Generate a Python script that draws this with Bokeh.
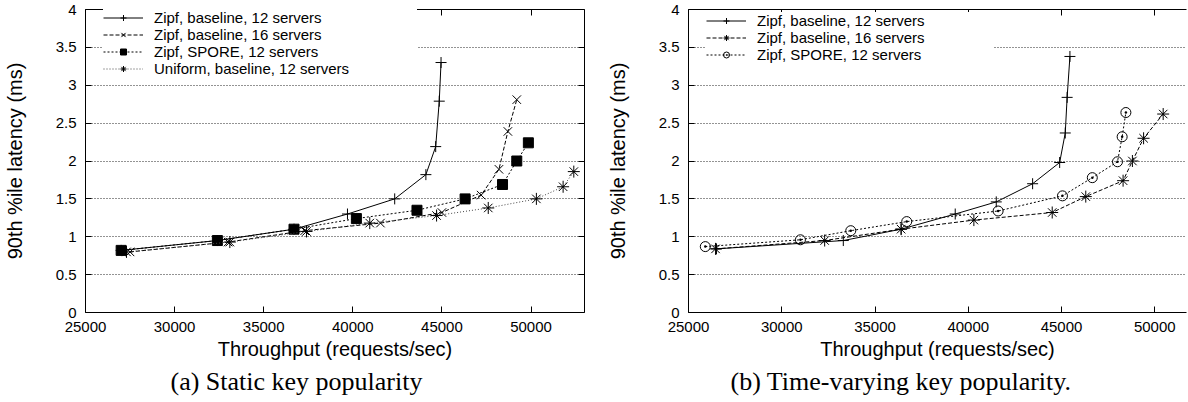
from bokeh.plotting import figure
from bokeh.layouts import row
from bokeh.models import (Range1d, FixedTicker, NumeralTickFormatter, LinearAxis,
                          Legend, LegendItem, Title, CustomJSTickFormatter)
from bokeh.embed import file_html
from bokeh.resources import INLINE

# ---------------- data ----------------
X_TICKS = [25000, 30000, 35000, 40000, 45000, 50000]
Y_TICKS = [0, 0.5, 1, 1.5, 2, 2.5, 3, 3.5, 4]
GRID_Y = [0.5, 1, 1.5, 2, 2.5, 3, 3.5]
X_TITLE = "Throughput (requests/sec)"
Y_TITLE = "90th %ile latency (ms)"

# Panel (a): static key popularity
a_caption = "(a) Static key popularity"
a_labels = ["Zipf, baseline, 12 servers", "Zipf, baseline, 16 servers",
            "Zipf, SPORE, 12 servers", "Uniform, baseline, 12 servers"]
a_zipf12_x = [27000, 32400, 36700, 39700, 42350, 44100, 44650, 44850, 44950]
a_zipf12_y = [0.82, 0.95, 1.10, 1.30, 1.50, 1.82, 2.19, 2.79, 3.30]
a_zipf16_x = [27500, 33000, 37300, 41550, 45000, 47200, 48200, 48700, 49200]
a_zipf16_y = [0.80, 0.93, 1.08, 1.18, 1.32, 1.55, 1.89, 2.39, 2.81]
a_spore_x = [27000, 32400, 36700, 40200, 43600, 46300, 48400, 49200, 49850]
a_spore_y = [0.82, 0.95, 1.10, 1.24, 1.35, 1.50, 1.69, 2.00, 2.24]
a_unif_x = [27300, 33100, 37400, 40950, 44700, 47600, 50300, 51800, 52400]
a_unif_y = [0.80, 0.93, 1.07, 1.18, 1.28, 1.38, 1.50, 1.66, 1.86]

# Panel (b): time-varying key popularity
b_caption = "(b) Time-varying key popularity."
b_labels = ["Zipf, baseline, 12 servers", "Zipf, baseline, 16 servers",
            "Zipf, SPORE, 12 servers"]
b_zipf12_x = [26500, 33300, 36400, 39300, 41500, 43450, 44900, 45200, 45300, 45450]
b_zipf12_y = [0.84, 0.95, 1.10, 1.30, 1.46, 1.70, 1.98, 2.37, 2.84, 3.38]
b_zipf16_x = [26450, 32300, 36400, 40300, 44500, 46300, 48300, 48800, 49400, 50450]
b_zipf16_y = [0.84, 0.95, 1.10, 1.22, 1.32, 1.53, 1.74, 2.00, 2.30, 2.62]
b_spore_x = [25900, 31000, 33700, 36700, 41600, 45050, 46650, 48000, 48250, 48450]
b_spore_y = [0.87, 0.96, 1.08, 1.20, 1.34, 1.54, 1.78, 1.99, 2.32, 2.64]

# ---------------- styles ----------------
FONT = "Liberation Sans"
S_SOLID = dict(line_dash="solid", line_color="black", line_width=1,
               marker="cross", size=11, fill_color="black")
S_DASH = dict(line_dash="4 2", line_color="black", line_width=1,
              marker="x", size=12, fill_color="black")
S_DOT = dict(line_dash="2 2", line_color="black", line_width=1,
             marker="square", size=10, fill_color="black")
S_FINE = dict(line_dash="1 2", line_color="#444444", line_width=1,
              marker="asterisk", size=12, fill_color="black")
S_STAR_DASH = dict(line_dash="4 2", line_color="black", line_width=1,
                   marker="asterisk", size=12, fill_color="black")
S_CIRC_DOT = dict(line_dash="2 2", line_color="black", line_width=1,
                  marker="circle_dot", size=10, fill_color=None)

FIG_H = 400
FRAME_TOP = 9
FRAME_H = 303


def style_axis(ax, show_labels=True):
    ax.axis_line_color = "black"
    ax.axis_line_width = 1
    ax.major_tick_in = 6
    ax.major_tick_out = 0
    ax.minor_tick_in = 0
    ax.minor_tick_out = 0
    ax.major_tick_line_color = "black"
    if show_labels:
        ax.major_label_text_font = FONT
        ax.major_label_text_font_size = "15px"
        ax.major_label_text_color = "black"
        ax.major_label_standoff = 9
    else:
        ax.formatter = CustomJSTickFormatter(code="return ''")
        ax.major_label_text_font_size = "0px"
        ax.major_label_standoff = 0


def make_panel(series, labels, caption, x_end, width, mb_left, mb_right,
               right_axis, legend_lw, legend_vy, caption_offset):
    p = figure(width=width, height=FIG_H, output_backend="svg",
               toolbar_location=None, x_range=Range1d(25000, x_end),
               y_range=Range1d(0, 4), min_border_left=mb_left,
               min_border_right=mb_right, min_border_top=FRAME_TOP,
               min_border_bottom=FIG_H - FRAME_TOP - FRAME_H)
    p.outline_line_color = None
    p.background_fill_color = "white"
    p.border_fill_color = "white"

    p.xaxis.ticker = FixedTicker(ticks=X_TICKS)
    p.xaxis.formatter = NumeralTickFormatter(format="0")
    p.yaxis.ticker = FixedTicker(ticks=Y_TICKS)
    p.yaxis.formatter = NumeralTickFormatter(format="0.[0]")
    for ax in p.xaxis + p.yaxis:
        style_axis(ax)
        ax.axis_label_text_font = FONT
        ax.axis_label_text_font_size = "20px"
        ax.axis_label_text_font_style = "normal"
        ax.axis_label_text_color = "black"
    p.xaxis.axis_label = X_TITLE
    p.xaxis.axis_label_standoff = 3
    p.yaxis.axis_label = Y_TITLE
    p.yaxis.axis_label_standoff = 27

    top = LinearAxis(ticker=FixedTicker(ticks=X_TICKS), level="overlay")
    style_axis(top, show_labels=False)
    p.add_layout(top, "above")
    if right_axis:
        rgt = LinearAxis(ticker=FixedTicker(ticks=Y_TICKS))
        style_axis(rgt, show_labels=False)
        p.add_layout(rgt, "right")

    p.xgrid.visible = False
    p.ygrid.ticker = FixedTicker(ticks=GRID_Y)
    p.ygrid.grid_line_color = "black"
    p.ygrid.grid_line_alpha = 0.85
    p.ygrid.grid_line_dash = "1 2"
    p.ygrid.grid_line_width = 1

    items = []
    for (xs, ys, st), lab in zip(series, labels):
        lr = p.line(xs, ys, line_color=st["line_color"], line_dash=st["line_dash"],
                    line_width=st["line_width"])
        sr = p.scatter(xs, ys, marker=st["marker"], size=st["size"],
                       line_color="black", line_width=1,
                       fill_color=st["fill_color"])
        items.append(LegendItem(label=lab, renderers=[lr, sr]))

    leg = Legend(items=items, location=(18, legend_vy), glyph_width=40,
                 glyph_height=15, label_height=15, spacing=0, padding=0,
                 label_standoff=11, label_width=legend_lw,
                 label_text_font=FONT, label_text_font_size="15px",
                 label_text_color="black", background_fill_color="white",
                 background_fill_alpha=1.0, border_line_color=None)
    p.add_layout(leg)

    cap = Title(text=caption, align="left", text_font="Liberation Serif",
                text_font_size="26px", text_font_style="normal",
                text_color="black", offset=caption_offset, standoff=4)
    p.add_layout(cap, "below")
    return p


pa = make_panel(
    [(a_zipf12_x, a_zipf12_y, S_SOLID), (a_zipf16_x, a_zipf16_y, S_DASH),
     (a_spore_x, a_spore_y, S_DOT), (a_unif_x, a_unif_y, S_FINE)],
    a_labels, a_caption, 53000, 598, 80, 14, True, 263, 235, 85)

pb = make_panel(
    [(b_zipf12_x, b_zipf12_y, S_SOLID), (b_zipf16_x, b_zipf16_y, S_STAR_DASH),
     (b_spore_x, b_spore_y, S_CIRC_DOT)],
    b_labels, b_caption, 51700, 590, 90, 2, False, 236, 249, 42)

layout = row(pa, pb)
open("out.html", "w").write(file_html(layout, INLINE))
